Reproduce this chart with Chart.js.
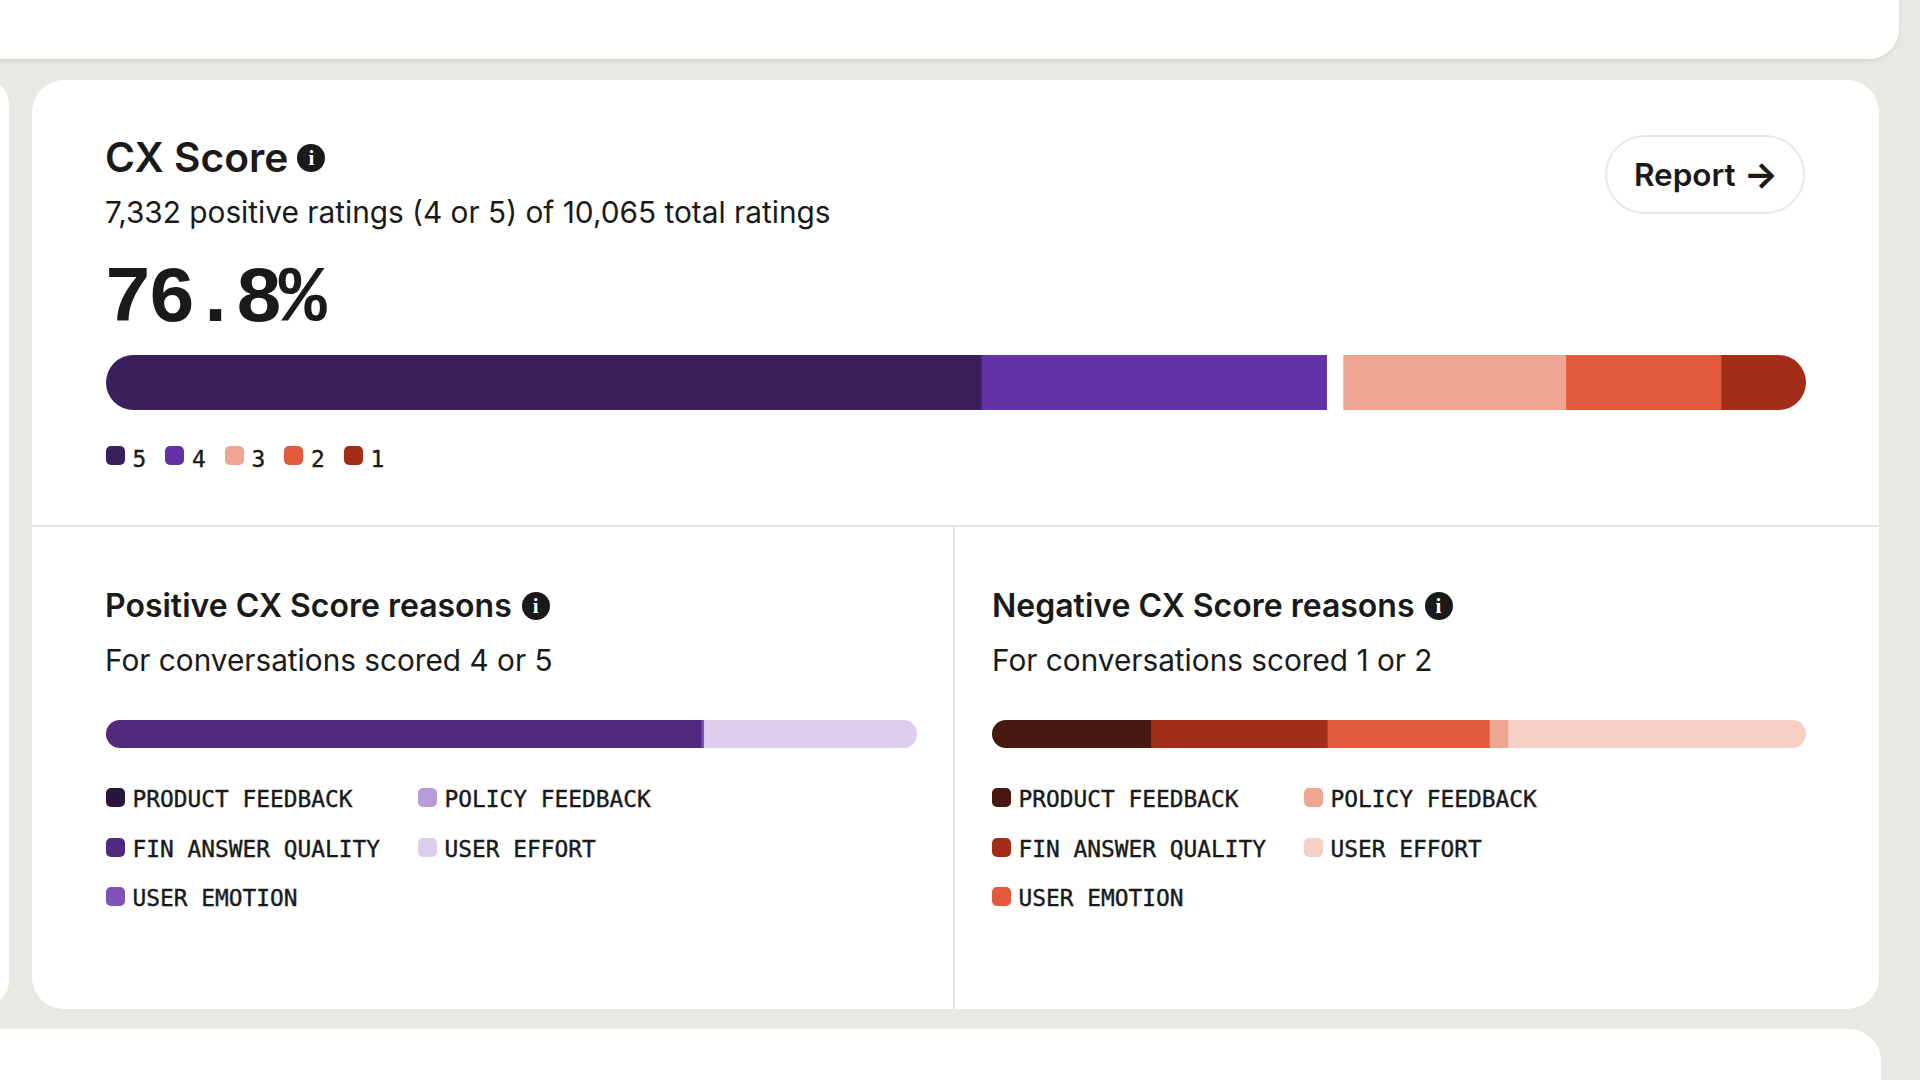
<!DOCTYPE html>
<html>
<head>
<meta charset="utf-8">
<script src="https://cdn.jsdelivr.net/npm/chart.js@4"></script>
<style>
    html, body { margin: 0; padding: 0; }
    body { position: relative; width: 1920px; height: 1080px; overflow: hidden; background: #e7e9e3; color: #1a1a1a; font-family: Inter, sans-serif; }
    .card { position: absolute; background: #fff; }
    .abs { position: absolute; white-space: nowrap; }
    .title { font-weight: 600; }
    .info { display: inline-block; width: 28px; height: 28px; border-radius: 50%; background: #1a1a1a; color: #fff; font: 700 21px/28px "Liberation Serif", serif; text-align: center; vertical-align: 4px; margin-left: 10px; }
    .bar { position: absolute; overflow: hidden; }
    .swatch { position: absolute; width: 19px; height: 19px; border-radius: 5px; }
    .lbl { position: absolute; white-space: nowrap; font: 400 22.85px/30px "DejaVu Sans Mono", monospace; -webkit-text-stroke: 0.4px #1a1a1a; }
</style>
</head>
<body>
<div class="card" style="left:-60px;top:-40px;width:1959px;height:99px;border-radius:30px;box-shadow:0 2px 4px rgba(0,0,0,.08)"></div>
<div class="card" style="left:-40px;top:80px;width:49px;height:925px;border-radius:24px"></div>
<div class="card" style="left:32px;top:80px;width:1847px;height:929px;border-radius:32px"></div>
<div class="card" style="left:-60px;top:1029px;width:1941px;height:90px;border-radius:32px"></div>
<div class="abs" style="left:32px;top:525px;width:1847px;height:2px;background:#e5e5e3"></div>
<div class="abs" style="left:953px;top:526px;width:2px;height:483px;background:#e5e5e3"></div>

<div class="abs title" style="left:105px;top:133px;font-size:40.7px;line-height:50px">CX Score<span class="info" style="vertical-align:7px;margin-left:9px">i</span></div>
<div class="abs" style="left:105px;top:192px;font-size:29.8px;line-height:40px">7,332 positive ratings (4 or 5) of 10,065 total ratings</div>
<div class="abs" style="left:104px;top:255px;font:700 80px/90px 'Liberation Mono',monospace;letter-spacing:-4.3px">76.8%</div>
<div class="abs" style="left:1605px;top:135px;width:194px;padding-left:2px;height:75px;border:2px solid #e8e8e6;border-radius:40px;font-size:31.5px;font-weight:600;line-height:75px;text-align:center">Report <span style="font-size:36px;font-weight:700;line-height:1;vertical-align:-1px">→</span></div>

<div class="abs title" style="left:105px;top:586px;font-size:32px;line-height:40px">Positive CX Score reasons<span class="info">i</span></div>
<div class="abs" style="left:105px;top:640px;font-size:29.75px;line-height:40px">For conversations scored 4 or 5</div>
<div class="abs title" style="left:992px;top:586px;font-size:32px;line-height:40px">Negative CX Score reasons<span class="info">i</span></div>
<div class="abs" style="left:992px;top:640px;font-size:29.75px;line-height:40px">For conversations scored 1 or 2</div>

<div class="bar" style="left:106px;top:355px;width:1700px;height:55px;border-radius:28px"><canvas id="scoreChart"></canvas></div>
<div class="bar" style="left:106px;top:720px;width:811px;height:28px;border-radius:14px"><canvas id="positiveChart"></canvas></div>
<div class="bar" style="left:992px;top:720px;width:814px;height:28px;border-radius:14px"><canvas id="negativeChart"></canvas></div>

<div id="legends"></div>

<script>
// share of ratings per score, in percent
const scoreLabels = ['5', '4', '3', '2', '1'];
const scoreValues = [51.5, 20.3, 14.1, 9.1, 5.0];
const scoreColors = ['#3a1f5c', '#6531a6', '#eea692', '#e2593c', '#a32d17'];

// share of reasons, in percent
const reasonLabels = ['PRODUCT FEEDBACK', 'FIN ANSWER QUALITY', 'USER EMOTION', 'POLICY FEEDBACK', 'USER EFFORT'];
const positiveValues = [0, 73.4, 0.3, 0, 26.3];
const positiveColors = ['#2a1540', '#512a80', '#8250ba', '#b99bd9', '#dbcdeb'];
const negativeValues = [19.5, 21.7, 19.9, 2.3, 36.6];
const negativeColors = ['#481a0f', '#a32d17', '#e2593c', '#eea692', '#f5cfc3'];

Chart.defaults.animation = false;

function stackedBar(id, labels, values, colors, gapIndex) {
    new Chart(document.getElementById(id), {
        type: 'bar',
        data: {
            labels: [''],
            datasets: labels.map((label, i) => ({
                label: label,
                data: [values[i]],
                backgroundColor: colors[i],
                // white gap between the positive and the other scores
                borderColor: '#fff',
                borderWidth: i === gapIndex ? { left: 17, right: 0, top: 0, bottom: 0 } : 0,
                borderSkipped: false,
                barPercentage: 1,
                categoryPercentage: 1
            }))
        },
        options: {
            indexAxis: 'y',
            responsive: true,
            maintainAspectRatio: false,
            layout: { padding: 0 },
            plugins: { legend: { display: false }, tooltip: { enabled: false } },
            scales: {
                x: { stacked: true, display: false, min: 0, max: 100 },
                y: { stacked: true, display: false }
            }
        }
    });
}

stackedBar('scoreChart', scoreLabels, scoreValues, scoreColors, 2);
stackedBar('positiveChart', reasonLabels, positiveValues, positiveColors, -1);
stackedBar('negativeChart', reasonLabels, negativeValues, negativeColors, -1);

// legends
const legends = document.getElementById('legends');
function legendItem(x, y, label, color, textY) {
    const sw = document.createElement('div');
    sw.className = 'swatch';
    sw.style.left = x + 'px';
    sw.style.top = (y - 10) + 'px';
    sw.style.background = color;
    legends.appendChild(sw);
    const txt = document.createElement('div');
    txt.className = 'lbl';
    txt.style.left = (x + 27) + 'px';
    txt.style.top = (y - 14 + textY) + 'px';
    txt.textContent = label;
    legends.appendChild(txt);
}

scoreLabels.forEach((label, i) => legendItem(105.5 + i * 59.5, 456, label, scoreColors[i], 2));

function reasonLegend(x, colors) {
    reasonLabels.forEach((label, i) => {
        const col = i < 3 ? 0 : 1;
        const row = i < 3 ? i : i - 3;
        legendItem(x + col * 312, 798 + row * 49.5, label, colors[i], 0);
    });
}
reasonLegend(105.5, positiveColors);
reasonLegend(991.5, negativeColors);
</script>
</body>
</html>
